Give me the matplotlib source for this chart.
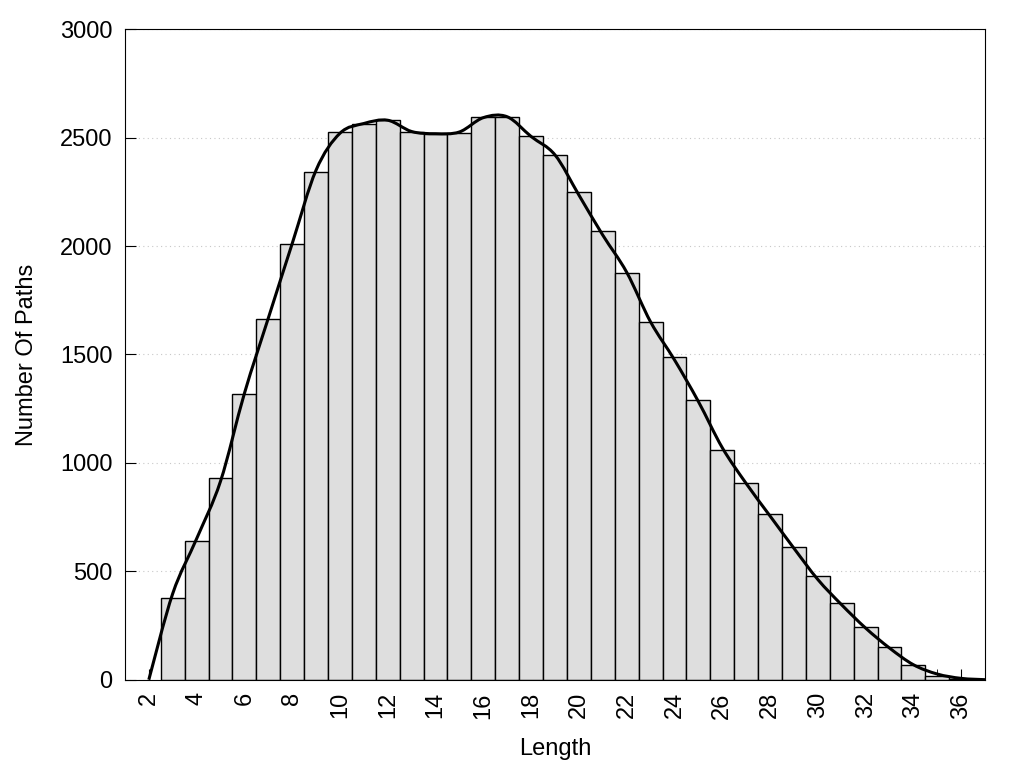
import numpy as np
import matplotlib
matplotlib.use("Agg")
import matplotlib.pyplot as plt
from matplotlib.path import Path
from matplotlib.patches import PathPatch

plt.rcParams['font.family'] = ['Liberation Sans', 'DejaVu Sans']

# path length -> number of paths (bars)
lengths = list(range(3, 37))
counts = [375, 640, 930, 1316, 1665, 2011, 2341, 2528, 2563, 2579,
          2528, 2518, 2523, 2594, 2597, 2509, 2421, 2251, 2071, 1877,
          1651, 1486, 1288, 1061, 905, 762, 610, 477, 353, 242,
          150, 67, 16, 4]

# smoothed curve knots
curve_x = list(range(2, 38))
curve_y = [0, 397, 650, 915, 1320, 1667, 2011, 2350, 2520, 2565, 2580,
           2528, 2518, 2526, 2592, 2596, 2505, 2420, 2235, 2050, 1879,
           1650, 1475, 1283, 1070, 905, 755, 606, 462, 345, 238,
           146, 69, 26, 6, 0]


def smooth_path(xs, ys):
    # Catmull-Rom knots turned into cubic bezier segments
    pts = np.column_stack([xs, ys]).astype(float)
    ext = np.vstack([pts[0], pts, pts[-1]])
    verts = [pts[0]]
    codes = [Path.MOVETO]
    for i in range(1, len(ext) - 2):
        p0, p1, p2, p3 = ext[i - 1], ext[i], ext[i + 1], ext[i + 2]
        verts += [p1 + (p2 - p0) / 6.0, p2 - (p3 - p1) / 6.0, p2]
        codes += [Path.CURVE4] * 3
    return Path(verts, codes)


fig = plt.figure(figsize=(10.24, 7.68), dpi=100)
ax = fig.add_axes([0.122, 0.115, 0.84, 0.847])

ax.bar(lengths, counts, width=1.0, color='#dedede', edgecolor='black',
       linewidth=1.0, zorder=2)
ax.add_patch(PathPatch(smooth_path(curve_x, curve_y), facecolor='none',
                       edgecolor='black', linewidth=2.2, zorder=3))

ax.set_xlim(1, 37)
ax.set_ylim(0, 3000)
ax.set_xticks(range(2, 37, 2))
ax.set_xticks(range(3, 37, 2), minor=True)
ax.set_yticks(range(0, 3001, 500))
ax.tick_params(axis='x', which='major', labelrotation=90, labelsize=17,
               direction='in', length=8, pad=9)
ax.tick_params(axis='x', which='minor', direction='in', length=8)
ax.tick_params(axis='y', labelsize=17, direction='in', length=8, pad=9)

ax.yaxis.grid(True, linestyle=(0, (1, 3)), color='#c8c8c8', linewidth=0.8, zorder=0)
ax.set_axisbelow(True)

ax.set_xlabel('Length', fontsize=17, labelpad=14)
ax.set_ylabel('Number Of Paths', fontsize=17, labelpad=16)

fig.savefig('out.png', dpi=100)
